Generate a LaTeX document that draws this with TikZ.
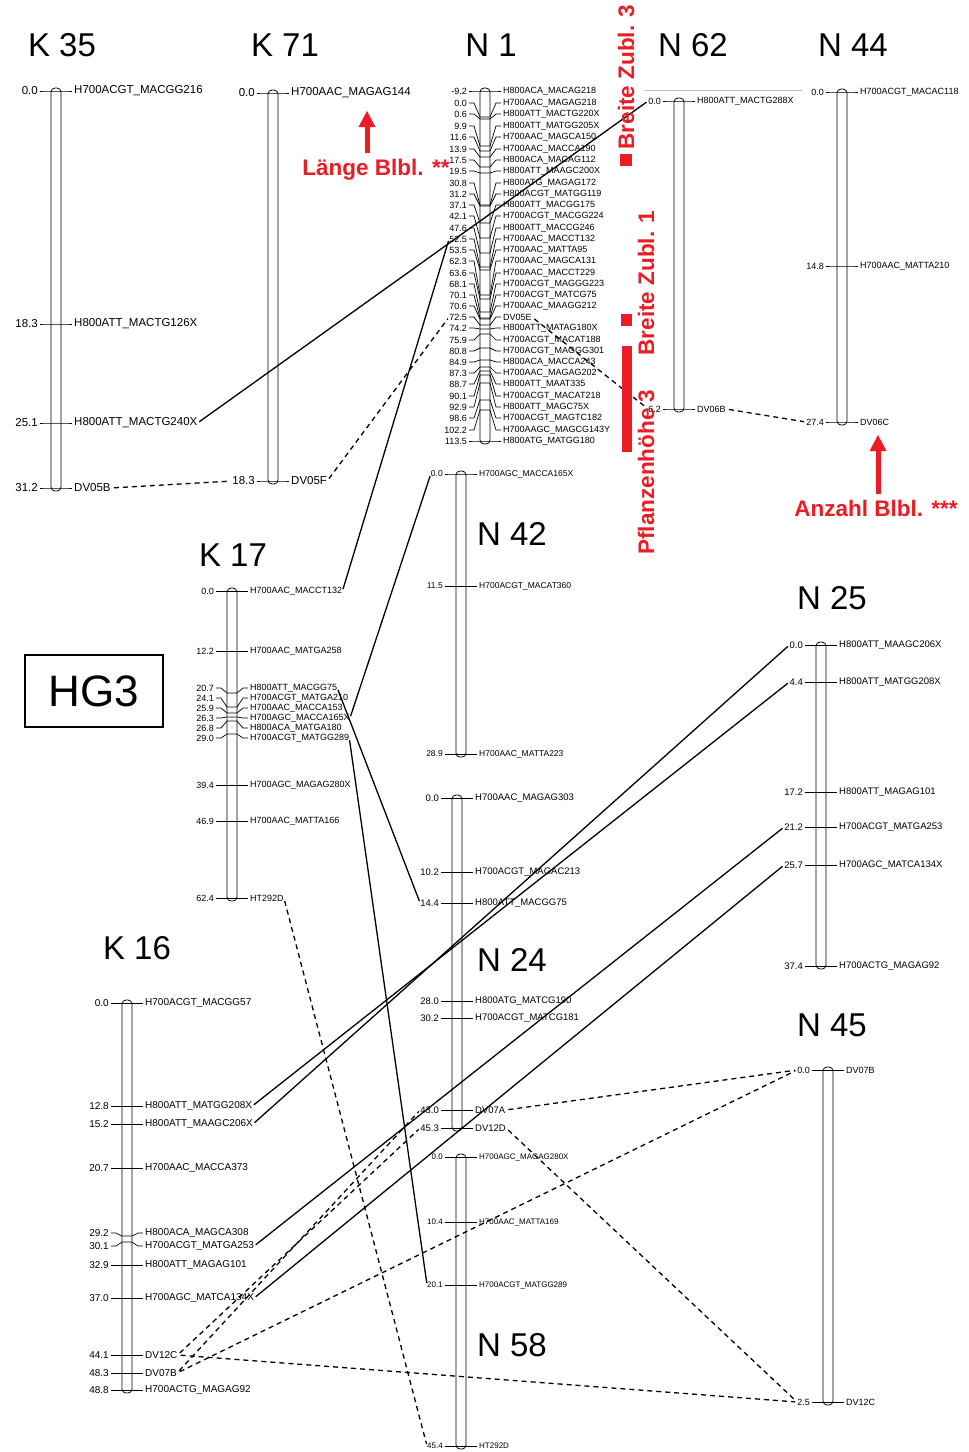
\documentclass[tikz,border=0pt]{standalone}
\usepackage{fontspec}
\setmainfont{Liberation Sans}
\usepackage{xcolor}
\usepackage{tikz}
\usetikzlibrary{arrows.meta}

\definecolor{qtlred}{RGB}{236,28,36}

% one linkage group: name, x of bar, top, bottom, font size, markers (tick y/label y/cM/marker)
\newcommand{\linkgroup}[6]{%
  \draw [chrbar] (#2-5,#3-3) rectangle (#2+5,#4+3);
  \foreach \ty/\ly/\cm/\mk [count=\i] in {#6} {
    \draw [ticks] (#2-16,\ly) -- (#2-11,\ly) -- (#2-5,\ty) -- (#2+5,\ty) -- (#2+11,\ly) -- (#2+16,\ly);
    \node (#1p\i) [cmlabel, font=\fontsize{#5}{#5}\selectfont] at (#2-18,\ly) {\cm};
    \node (#1m\i) [mklabel, font=\fontsize{#5}{#5}\selectfont] at (#2+18,\ly) {\mk};
  }
}

\begin{document}
\begin{tikzpicture}[x=1pt,y=-1pt]
\tikzstyle{title} = [font=\fontsize{33}{33}\selectfont]
\tikzstyle{chrbar} = [draw=black, line width=0.8pt, fill=white, rounded corners=4pt]
\tikzstyle{ticks} = [line width=0.7pt]
\tikzstyle{cmlabel} = [inner sep=0pt, anchor=east]
\tikzstyle{mklabel} = [inner sep=0pt, anchor=west]
\tikzstyle{link} = [line width=1.3pt, shorten <=2pt, shorten >=2pt]
\tikzstyle{dvlink} = [line width=1.3pt, dash pattern=on 5pt off 4pt, shorten <=3pt, shorten >=2pt]
\tikzstyle{trait} = [font=\fontsize{22.5}{22.5}\selectfont\bfseries, text=qtlred, inner sep=0pt]
\tikzstyle{qtlarrow} = [qtlred, line width=5pt, -{Triangle[length=16pt,width=17pt,line width=0pt]}]

\useasboundingbox (0,0) rectangle (969,1452);

% titles
\node (tK35) [title] at (62,45) {K 35};
\node (tK71) [title] at (285,45) {K 71};
\node (tN1) [title] at (491,45) {N 1};
\node (tN62) [title] at (693,45) {N 62};
\node (tN44) [title] at (853,45) {N 44};
\node (tN42) [title] at (512,534) {N 42};
\node (tK17) [title] at (233,555) {K 17};
\node (tN25) [title] at (832,598) {N 25};
\node (tN24) [title] at (512,960) {N 24};
\node (tK16) [title] at (137,948) {K 16};
\node (tN45) [title] at (832,1025) {N 45};
\node (tN58) [title] at (512,1345) {N 58};
\node (hg) [draw, line width=1.3pt, minimum width=138pt, minimum height=72pt, font=\fontsize{44}{44}\selectfont] at (94,691) {HG3};

% linkage groups
\linkgroup{K35}{56}{91}{488}{11.5}{91/91/0.0/H700ACGT\_MACGG216, 324/324/18.3/H800ATT\_MACTG126X,
  423/423/25.1/H800ATT\_MACTG240X, 488/488/31.2/DV05B}
\linkgroup{K71}{273}{93}{481}{11.5}{93/93/0.0/H700AAC\_MAGAG144, 481/481/18.3/DV05F}
\linkgroup{N1}{485}{91}{441}{9}{91/91/-9.2/H800ACA\_MACAG218, 117/103/0.0/H700AAC\_MAGAG218,
  119/114/0.6/H800ATT\_MACTG220X, 146/126/9.9/H800ATT\_MATGG205X, 151/137/11.6/H700AAC\_MAGCA150,
  157/149/13.9/H700AAC\_MACCA190, 167/160/17.5/H800ACA\_MACAG112, 173/171/19.5/H800ATT\_MAAGC200X,
  205/183/30.8/H800ATG\_MAGAG172, 206/194/31.2/H800ACGT\_MATGG119, 223/205/37.1/H800ATT\_MACGG175,
  238/216/42.1/H700ACGT\_MACGG224, 253/228/47.6/H800ATT\_MACCG246, 267/239/52.5/H700AAC\_MACCT132,
  270/250/53.5/H700AAC\_MATTA95, 295/261/62.3/H700AAC\_MAGCA131, 299/273/63.6/H700AAC\_MACCT229,
  312/284/68.1/H700ACGT\_MAGGG223, 318/295/70.1/H700ACGT\_MATCG75, 319/306/70.6/H700AAC\_MAAGG212,
  325/317/72.5/DV05E, 329/328/74.2/H800ATT\_MATAG180X, 334/340/75.9/H700ACGT\_MACAT188,
  348/351/80.8/H700ACGT\_MAGGG301, 360/362/84.9/H800ACA\_MACCA243, 367/373/87.3/H700AAC\_MAGAG202,
  371/384/88.7/H800ATT\_MAAT335, 375/396/90.1/H700ACGT\_MACAT218, 383/407/92.9/H800ATT\_MAGC75X,
  400/418/98.6/H700ACGT\_MAGTC182, 410/430/102.2/H700AAGC\_MAGCG143Y, 441/441/113.5/H800ATG\_MATGG180}
\linkgroup{N62}{679}{101}{409}{9}{101/101/0.0/H800ATT\_MACTG288X, 409/409/6.2/DV06B}
\linkgroup{N44}{842}{92}{422}{9}{92/92/0.0/H700ACGT\_MACAC118, 266/266/14.8/H700AAC\_MATTA210,
  422/422/27.4/DV06C}
\linkgroup{N42}{461}{474}{754}{8.5}{474/474/0.0/H700AGC\_MACCA165X, 586/586/11.5/H700ACGT\_MACAT360,
  754/754/28.9/H700AAC\_MATTA223}
\linkgroup{K17}{232}{591}{898}{9}{591/591/0.0/H700AAC\_MACCT132, 651/651/12.2/H700AAC\_MATGA258,
  693/688/20.7/H800ATT\_MACGG75, 707/698/24.1/H700ACGT\_MATGA210, 713/708/25.9/H700AAC\_MACCA153,
  717/718/26.3/H700AGC\_MACCA165X, 721/728/26.8/H800ACA\_MATGA180, 734/738/29.0/H700ACGT\_MATGG289,
  785/785/39.4/H700AGC\_MAGAG280X, 821/821/46.9/H700AAC\_MATTA166, 898/898/62.4/HT292D}
\linkgroup{N25}{821}{645}{966}{9.5}{645/645/0.0/H800ATT\_MAAGC206X, 682/682/4.4/H800ATT\_MATGG208X,
  792/792/17.2/H800ATT\_MAGAG101, 827/827/21.2/H700ACGT\_MATGA253, 865/865/25.7/H700AGC\_MATCA134X,
  966/966/37.4/H700ACTG\_MAGAG92}
\linkgroup{N24}{457}{798}{1128}{9.5}{798/798/0.0/H700AAC\_MAGAG303, 872/872/10.2/H700ACGT\_MAGAC213,
  903/903/14.4/H800ATT\_MACGG75, 1001/1001/28.0/H800ATG\_MATCG190, 1018/1018/30.2/H700ACGT\_MATCG181,
  1110/1110/43.0/DV07A, 1128/1128/45.3/DV12D}
\linkgroup{K16}{127}{1003}{1390}{10}{1003/1003/0.0/H700ACGT\_MACGG57, 1106/1106/12.8/H800ATT\_MATGG208X,
  1124/1124/15.2/H800ATT\_MAAGC206X, 1168/1168/20.7/H700AAC\_MACCA373, 1236/1233/29.2/H800ACA\_MAGCA308,
  1242/1246/30.1/H700ACGT\_MATGA253, 1265/1265/32.9/H800ATT\_MAGAG101, 1298/1298/37.0/H700AGC\_MATCA134X,
  1355/1355/44.1/DV12C, 1373/1373/48.3/DV07B, 1390/1390/48.8/H700ACTG\_MAGAG92}
\linkgroup{N58}{461}{1157}{1446}{8}{1157/1157/0.0/H700AGC\_MAGAG280X, 1222/1222/10.4/H700AAC\_MATTA169,
  1285/1285/20.1/H700ACGT\_MATGG289, 1446/1446/45.4/HT292D}
\linkgroup{N45}{828}{1070}{1402}{9}{1070/1070/0.0/DV07B, 1402/1402/2.5/DV12C}

\draw [gray!50, line width=0.6pt] (644,90) -- (802,90);

% shared markers
\draw [link] (K35m3.east) -- (N62p1.west);
\draw [link] (K17m1.east) -- (N1p14.west);
\draw [link] (K17m6.east) -- (N42p1.west);
\draw [link] (K17m3.east) -- (N24p3.west);
\draw [link] (K17m8.east) -- (N58p3.west);
\draw [link] (K16m2.east) -- (N25p2.west);
\draw [link] (K16m3.east) -- (N25p1.west);
\draw [link] (K16m6.east) -- (N25p4.west);
\draw [link] (K16m8.east) -- (N25p5.west);

% DV markers
\draw [dvlink] (K35m4.east) -- (K71p2.west);
\draw [dvlink] (K71m2.east) -- (N1p21.west);
\draw [dvlink] (N1m21.east) -- (N62p2.west);
\draw [dvlink] (N62m2.east) -- (N44p3.west);
\draw [dvlink] (K17m11.east) -- (N58p4.west);
\draw [dvlink] (K16m9.east) -- (N24p7.west);
\draw [dvlink] (K16m10.east) -- (N24p6.west);
\draw [dvlink] (K16m10.east) -- (N45p1.west);
\draw [dvlink] (K16m9.east) -- (N45p2.west);
\draw [dvlink] (N24m6.east) -- (N45p1.west);
\draw [dvlink] (N24m7.east) -- (N45p2.west);

% QTL
\fill [qtlred] (620,154) rectangle (632,166);
\fill [qtlred] (621,314) rectangle (632,326);
\fill [qtlred] (622,346) rectangle (632,452);
\node (bz3) [trait, rotate=90] at (626,77) {Breite Zubl. 3};
\node (bz1) [trait, rotate=90] at (646,283) {Breite Zubl. 1};
\node (ph3) [trait, rotate=90] at (646,472) {Pflanzenhöhe 3};
\node (lb) [trait] at (376,170) {Länge Blbl. **};
\node (ab) [trait] at (876,508) {Anzahl Blbl. ***};
\coordinate (lbtip) at (367,111);
\coordinate (abtip) at (878,435);
\draw [qtlarrow, shorten <=6pt] (lb.north -| lbtip) -- (lbtip);
\draw [qtlarrow, shorten <=6pt] (ab.north -| abtip) -- (abtip);
\end{tikzpicture}
\end{document}
